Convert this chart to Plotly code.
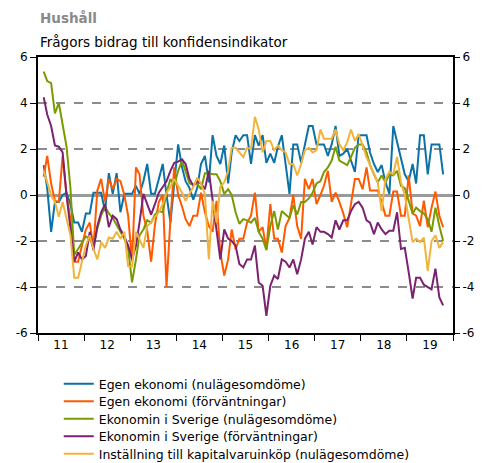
import pandas as pd
import plotly.graph_objects as go

months = pd.date_range("2011-01-15", periods=105, freq="MS") + pd.Timedelta(days=14)

egen_nulage = [1.3, 0.3, -1.6, -0.3, -0.3, 0.0, 0.1, -0.4, -1.2, -1.2,
    -1.6, -0.8, -0.8, 0.1, 0.1, 0.1, -0.7, 0.95, 0.05, 0.95,
    -0.75, 0.05, 0.05, 0.05, 0.4, 0.05, 0.6, 1.35, 0.05, 0.05,
    0.7, 1.35, 0.0, -1.2, 0.5, 2.2, 1.2, 0.6, 0.3, -0.2,
    0.3, 1.35, 1.7, 0.55, 2.6, 1.7, 1.35, 2.15, 0.5, 1.85,
    2.6, 2.35, 2.6, 2.6, 1.35, 2.6, 2.15, 2.6, 1.4, 1.8,
    1.4, 2.1, 2.6, 1.4, 0.05, 2.2, 2.2, 1.4, 2.15, 3.0,
    3.0, 2.2, 2.2, 2.2, 1.7, 2.2, 3.0, 1.7, 1.8, 2.0,
    1.5, 1.0, 2.6, 2.6, 2.6, 1.85, 1.35, 1.0, 1.3, 0.55,
    0.05, 3.0, 2.35, 1.65, 0.9, 0.6, 1.35, 0.5, 2.6, 2.6,
    0.9, 2.2, 2.2, 2.2, 0.9]

egen_forv = [0.8, 1.7, 0.5, -0.25, -0.3, 1.7, 0.0, -1.05, -2.9, -2.9,
    -2.2, -1.5, -1.2, -2.3, 0.2, 0.7, -0.3, 0.7, 0.25, 0.7,
    0.6, 0.0, -0.9, -2.9, 1.2, 0.9, -0.9, -1.55, -2.9, -1.3,
    -0.3, 0.0, -4.0, -1.05, 1.2, 0.0, -0.5, -1.05, -1.35, -0.9,
    -0.9, 0.1, -0.75, -1.35, -1.6, -0.25, -2.5, -3.5, -2.8, -1.5,
    -2.35, -1.9, -1.9, -1.2, -0.9, 0.1, -1.6, -1.4, -2.35, -0.4,
    -1.9, -1.9, -2.5, -1.35, -1.0, 0.0, -1.35, -1.9, 0.7, 0.25,
    0.7, -0.4, 0.0, 0.4, 1.05, -0.3, 0.1, -0.3, -0.8, -1.4,
    -0.4, 0.7, 0.7, 0.25, 1.2, 0.2, 0.2, 0.2, -0.3, -0.9,
    -0.9, 0.15, 0.15, -0.9, -0.9, 0.85, -0.8, -0.9, -1.35, -0.25,
    -1.4, -0.55, 0.15, -0.9, -1.4]

sverige_nulage = [5.36, 4.95, 4.86, 3.55, 4.0, 3.0, 2.1, 0.3, -2.6, -2.35,
    -2.05, -1.8, -1.9, -2.25, -1.45, -0.9, -0.5, -0.8, -1.0, -1.3,
    -1.6, -1.9, -2.35, -3.8, -2.8, -1.75, -1.5, -1.1, -1.2, -0.85,
    -0.7, -0.75, 0.1, 0.7, 0.4, 1.05, 1.5, 1.0, 0.5, 0.45,
    0.5, 0.25, 0.95, 0.95, 0.9, 0.9, 0.6, 0.05, 0.25, 0.0,
    -0.75, -1.25, -1.05, -1.1, -1.2, -1.0, -1.6, -1.9, -2.4, -1.35,
    -0.7, -1.5, -0.7, -0.85, -1.0, -0.45, -0.85, -0.3, -0.3, -0.15,
    0.1, 0.5, 0.6, 1.0, 1.2, 1.5, 2.1, 1.5, 1.4, 1.3,
    1.65, 2.05, 2.2, 2.2, 1.85, 1.3, 0.9, 0.55, 0.85, 0.55,
    0.9, 0.85, 1.05, 0.4, 0.3, -0.2, -0.8, -0.55, -0.7, -0.8,
    -1.05, -1.6, -0.55, -1.35, -2.0]

sverige_forv = [4.25, 3.5, 3.0, 2.15, 2.1, 1.85, 0.0, -1.5, -2.9, -2.5,
    -2.8, -2.65, -1.6, -2.4, -1.35, -0.75, -0.4, -1.4, -0.9, -1.05,
    -1.5, -1.8, -2.2, -2.8, -2.2, -1.2, 0.05, -0.4, -0.85, -0.4,
    0.1, 0.35, 0.6, 1.05, 1.4, 1.45, 1.55, 1.35, 0.7, 0.4,
    0.6, 0.5, 0.25, 1.05, -0.3, -1.6, -2.8, -1.5, -1.9, -2.0,
    -2.2, -3.0, -3.15, -2.8, -2.8, -2.2, -3.8, -3.95, -5.25, -3.95,
    -3.5, -3.65, -2.8, -2.9, -3.15, -2.8, -3.45, -2.8, -1.9, -1.6,
    -2.15, -1.4, -1.6, -1.6, -1.7, -1.85, -1.1, -1.5, -1.1, -1.1,
    -0.7, -0.4, -0.3, -0.55, -1.1, -1.2, -1.7, -1.2, -1.5, -1.7,
    -1.55, -1.55, -0.75, -2.35, -2.3, -3.35, -4.5, -3.6, -3.6, -3.9,
    -4.0, -4.1, -3.2, -4.45, -4.8]

kapitalvaror = [1.05, 0.55, 0.0, -0.3, -0.95, -0.3, -1.05, -1.75, -3.6, -3.6,
    -2.9, -2.2, -1.75, -2.35, -2.8, -2.05, -2.3, -1.85, -1.9, -1.6,
    -1.9, -1.6, -3.1, -3.1, -1.6, -1.9, -2.3, -1.35, -1.2, -0.95,
    -0.75, -0.4, 0.1, 0.35, 0.7, 0.4, 0.1, -0.25, 0.05, 0.35,
    0.75, 0.5, 0.05, -2.8, -0.25, -1.2, 0.35, 0.55, 1.05, 2.05,
    2.05, 1.85, 1.65, 2.05, 2.0, 3.4, 2.85, 1.85, 2.35, 2.35,
    1.95, 2.15, 1.95, 1.85, 1.35, 1.35, 0.85, 1.35, 1.95, 2.05,
    1.85, 1.95, 2.85, 2.45, 2.45, 2.45, 2.85, 2.2, 1.95, 2.3,
    2.85, 2.35, 2.65, 2.15, 1.65, 1.3, 0.9, 0.55, -0.7, 0.7,
    1.0, 0.9, 1.65, 0.55, 0.0, -1.05, -2.05, -1.9, -2.05, -1.85,
    -3.3, -2.0, -1.75, -2.3, -2.05]

series_names = ["Egen ekonomi (nulägesomdöme)", "Egen ekonomi (förväntningar)",
                "Ekonomin i Sverige (nulägesomdöme)", "Ekonomin i Sverige (förväntningar)",
                "Inställning till kapitalvaruinköp (nulägesomdöme)"]
series_values = [egen_nulage, egen_forv, sverige_nulage, sverige_forv, kapitalvaror]
colors = ["#0a72a6", "#ff5a00", "#7a9a01", "#7b2270", "#f2b33d"]

year_labels = ["11", "12", "13", "14", "15", "16", "17", "18", "19"]
year_mid = [f"20{y}-07-02" for y in year_labels]
y_ticks = [-6, -4, -2, 0, 2, 4, 6]
y_labels = ["-6", "-4", "-2", "0", "2", "4", "6"]

FONT = "DejaVu Sans"
# page body adds an 8px offset; figure is sized to fit the 498x463 window
W, H = 490, 455
ML, MT, MR, MB = 30, 49, 45, 130
PH = H - MT - MB

fig = go.Figure()
legend_ids = ["legend", "legend2", "legend3", "legend4", "legend5"]
for name, vals, col, lg in zip(series_names, series_values, colors, legend_ids):
    fig.add_trace(go.Scatter(x=months, y=vals, mode="lines", name=name,
                             legend=lg, line=dict(color=col, width=2)))
fig.add_trace(go.Scatter(x=[months[0]], y=[0], yaxis="y2", showlegend=False,
                         mode="markers", marker=dict(opacity=0), hoverinfo="skip"))

legend_layout = {}
for k, lg in enumerate(legend_ids):
    row_y = 376 + 17.5 * k  # row centre in figure pixels
    legend_layout[lg] = dict(x=0.05, y=(H - MB - row_y) / PH, xanchor="left",
                             yanchor="middle", font=dict(family=FONT, size=12.5),
                             bgcolor="rgba(0,0,0,0)", borderwidth=0)

fig.update_layout(
    width=W, height=H,
    margin=dict(l=ML, r=MR, t=MT, b=MB, autoexpand=False),
    paper_bgcolor="white", plot_bgcolor="white",
    font=dict(family=FONT, size=12, color="black"),
    showlegend=True,
    xaxis=dict(type="date", range=["2011-01-01", "2020-01-01"],
               tickvals=year_mid, ticktext=year_labels, ticks="",
               showgrid=False, zeroline=False, automargin=False,
               showline=True, linecolor="black", linewidth=2, mirror=True,
               tickfont=dict(size=12),
               minor=dict(tick0="2011-01-01", dtick="M12", ticks="outside",
                          ticklen=6, tickcolor="black", tickwidth=1, showgrid=False)),
    yaxis=dict(range=[-6, 6], tickvals=y_ticks, ticktext=y_labels,
               ticks="outside", ticklen=6, tickcolor="black", automargin=False,
               showgrid=True, gridcolor="#8c8c8c", griddash="dash", gridwidth=1.5,
               zeroline=True, zerolinecolor="#9a9a9a", zerolinewidth=2.5,
               showline=True, linecolor="black", linewidth=2, mirror=True,
               tickfont=dict(size=12)),
    yaxis2=dict(range=[-6, 6], tickvals=y_ticks, ticktext=y_labels,
                overlaying="y", side="right", ticks="outside", ticklen=6,
                tickcolor="black", showgrid=False, zeroline=False, automargin=False,
                showline=False, tickfont=dict(size=12)),
    **legend_layout,
)

fig.add_annotation(text="<b>Hushåll</b>", xref="paper", yref="paper",
                   x=0, y=(H - MB - 10) / PH, xanchor="left", yanchor="middle", showarrow=False,
                   font=dict(family=FONT, size=13.5, color="#8a8a8a"))
fig.add_annotation(text="Frågors bidrag till konfidensindikator", xref="paper", yref="paper",
                   x=0, y=(H - MB - 34) / PH, xanchor="left", yanchor="middle", showarrow=False,
                   font=dict(family=FONT, size=13.5, color="black"))

fig.write_html("out.html")
